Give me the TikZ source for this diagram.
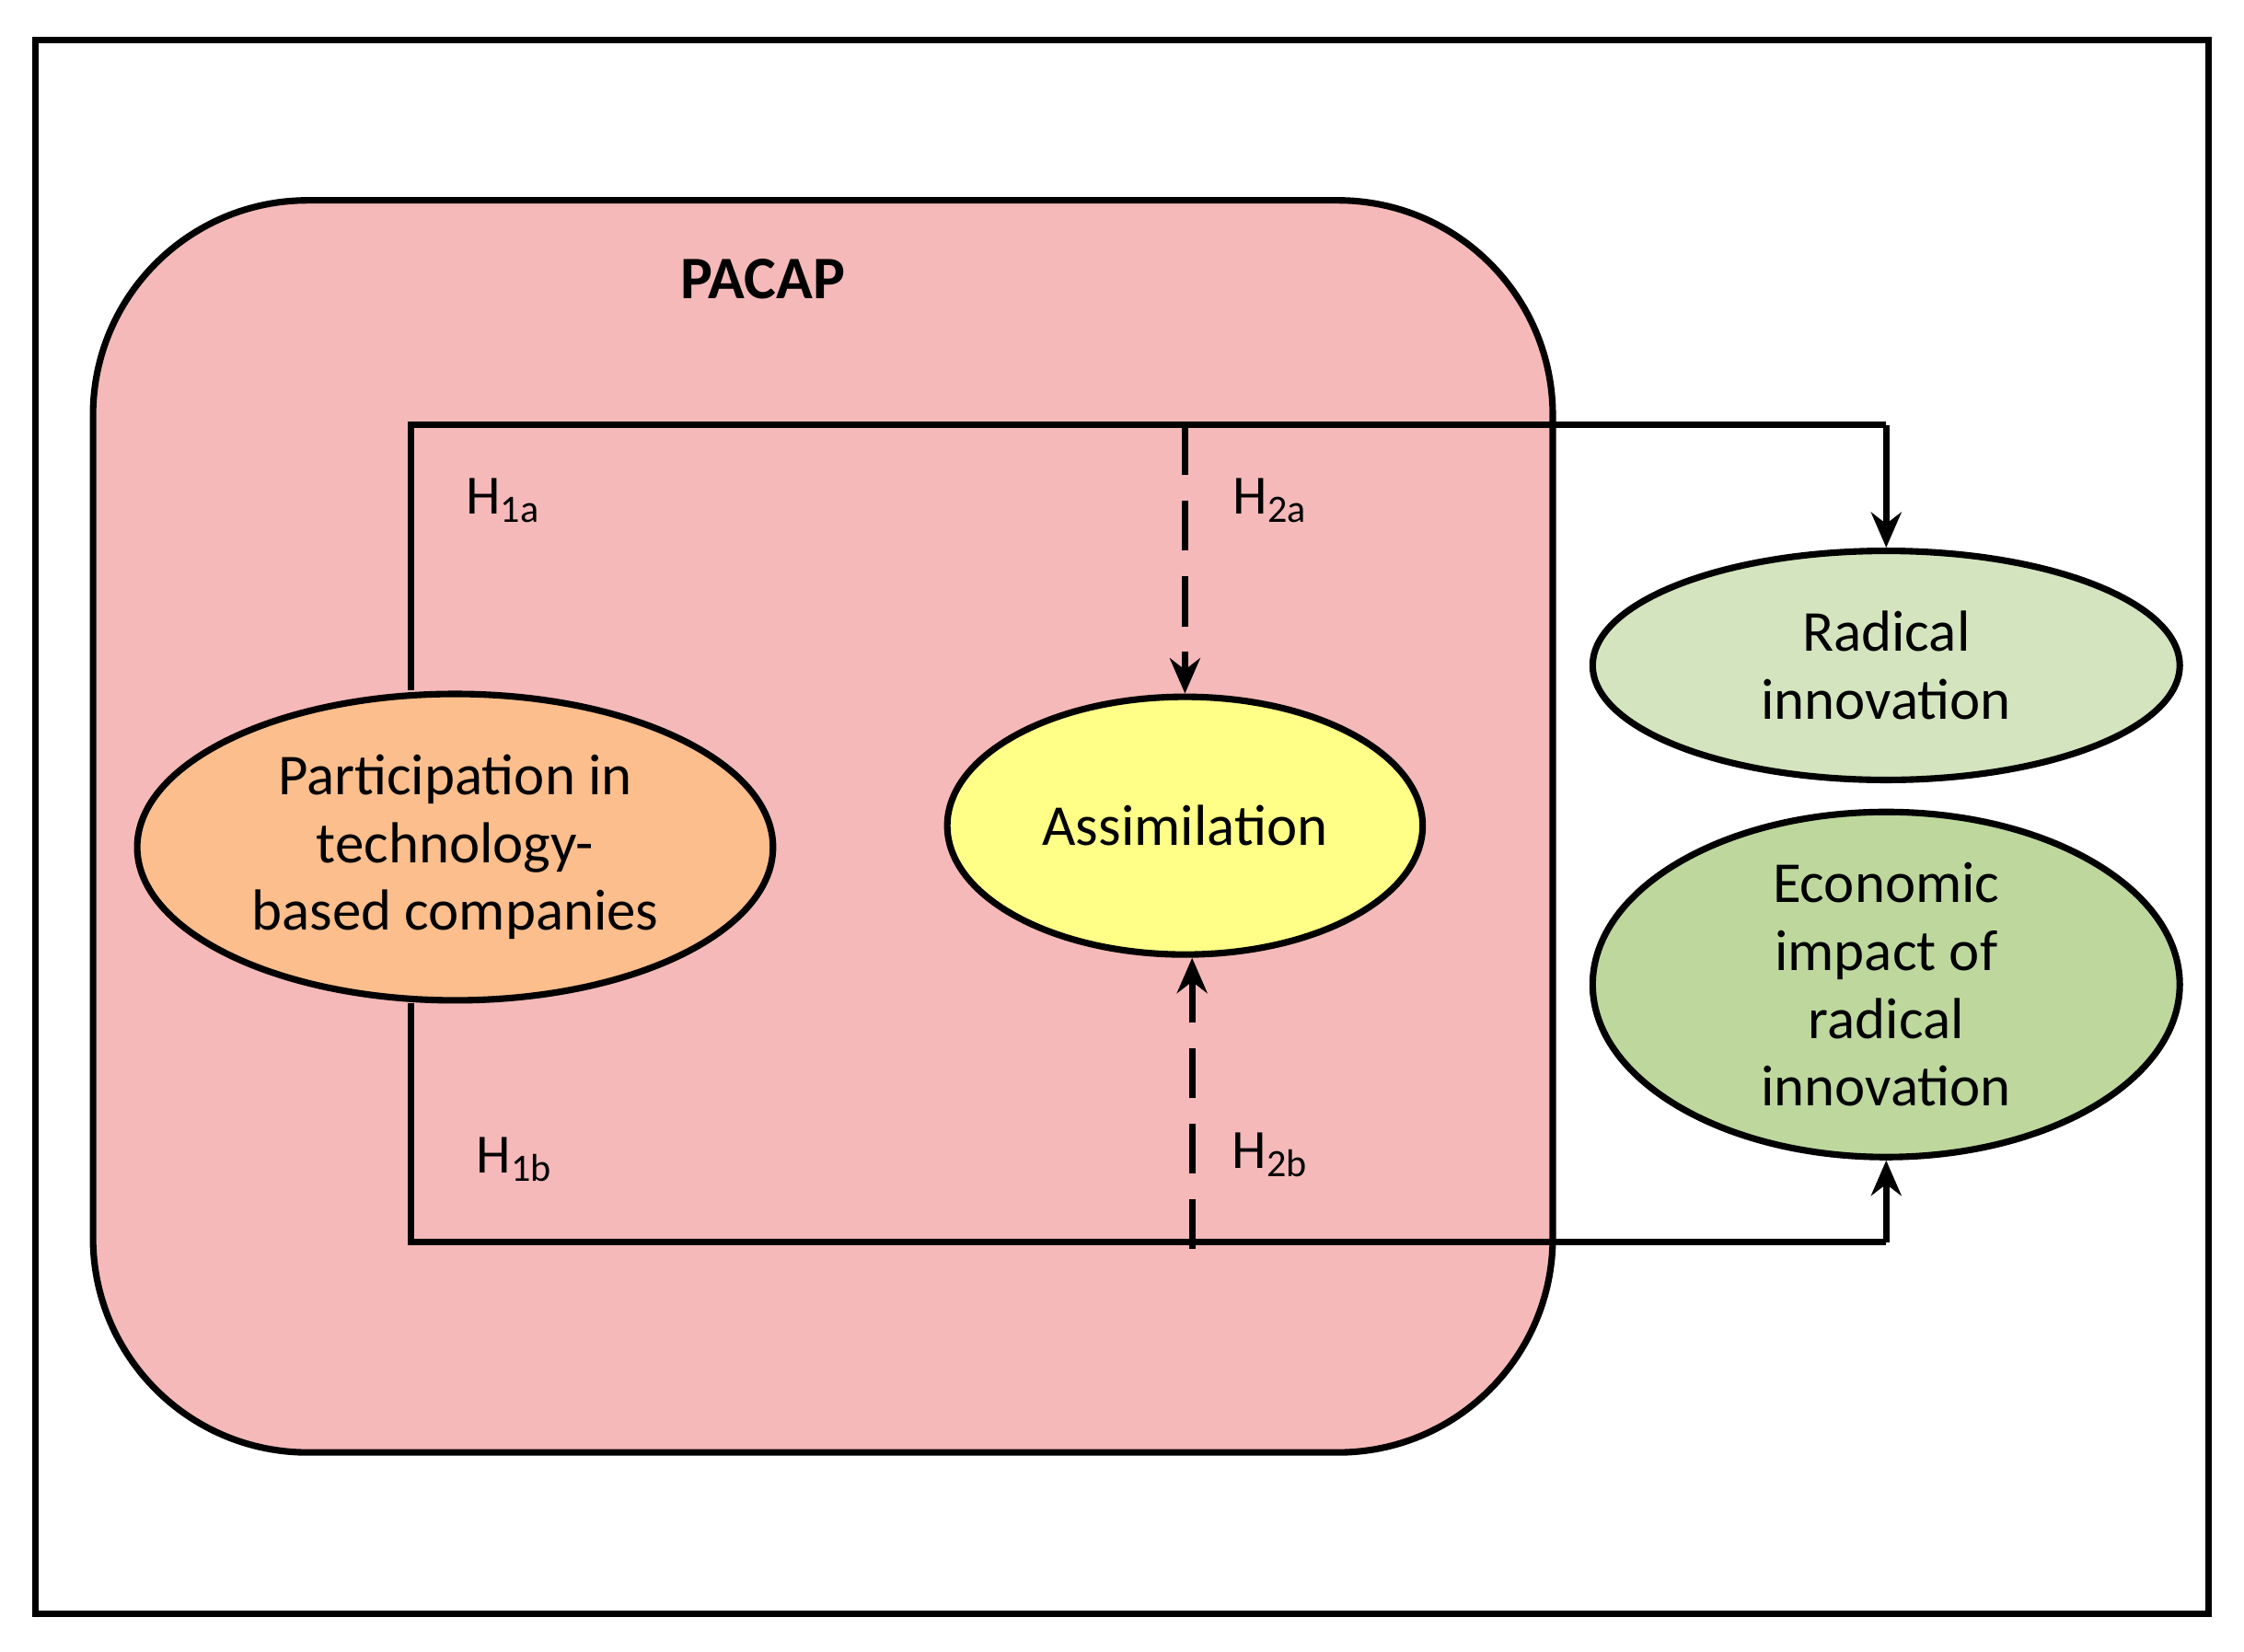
\documentclass[tikz,border=0pt]{standalone}
\usepackage{fontspec}
\setmainfont{Carlito}
\usetikzlibrary{shapes.geometric,arrows.meta}
\definecolor{pinkfill}{HTML}{F5B9B9}
\definecolor{orangefill}{HTML}{FBBE8C}
\definecolor{yellowfill}{HTML}{FFFF88}
\definecolor{lgreen}{HTML}{D4E4BE}
\definecolor{mgreen}{HTML}{BDD79D}
\begin{document}
\begin{tikzpicture}[x=0.01cm,y=-0.01cm,
  ell/.style={ellipse,draw,line width=1.3pt,inner sep=0pt,align=center,font=\fontsize{11.5}{13.5}\selectfont},
  conn/.style={line width=1.3pt},
  arr/.style={conn,-{Stealth[length=7pt,width=6pt]}},
  lab/.style={font=\fontsize{11}{13}\selectfont}]
\useasboundingbox (0,0) rectangle (1568,1154);
\draw[line width=1.3pt] (25,28) rectangle (1543,1128);
\draw[line width=1.3pt,fill=pinkfill,rounded corners=1.5cm] (65,140) rectangle (1085,1015);
\node[font=\bfseries\fontsize{12}{14}\selectfont] (pacap) at (533,195) {PACAP};
\node[ell,fill=orangefill,minimum width=4.44cm,minimum height=2.14cm] (part) at (318,592) {Participation in\\technology-\\based companies};
\node[ell,fill=yellowfill,minimum width=3.32cm,minimum height=1.80cm] (assim) at (828,577) {Assimilation};
\node[ell,fill=lgreen,minimum width=4.10cm,minimum height=1.60cm] (rad) at (1318,465) {Radical\\innovation};
\node[ell,fill=mgreen,minimum width=4.10cm,minimum height=2.20cm] (eco) at (1318,688) {Economic\\impact of\\radical\\innovation};
\coordinate (tl) at (287,297);
\coordinate (tm) at (828,297);
\coordinate (tr) at (1318,297);
\coordinate (bl) at (287,868);
\coordinate (bm) at (833,873);
\coordinate (br) at (1318,868);
\draw[conn] (part.north -| tl) -- (tl) -- (tr);
\draw[arr] (tr) -- (rad.north);
\draw[conn] (part.south -| bl) -- (bl) -- (br);
\draw[arr] (br) -- (eco.south);
\draw[arr,dash pattern=on 10pt off 5pt] (tm) -- (assim.north);
\draw[arr,dash pattern=on 10pt off 5pt] (bm) -- (assim.south -| bm);
\node[lab] (h1a) at (352,350) {H\textsubscript{1a}};
\node[lab] (h2a) at (888,350) {H\textsubscript{2a}};
\node[lab] (h1b) at (360,810) {H\textsubscript{1b}};
\node[lab] (h2b) at (888,807) {H\textsubscript{2b}};
\end{tikzpicture}
\end{document}
